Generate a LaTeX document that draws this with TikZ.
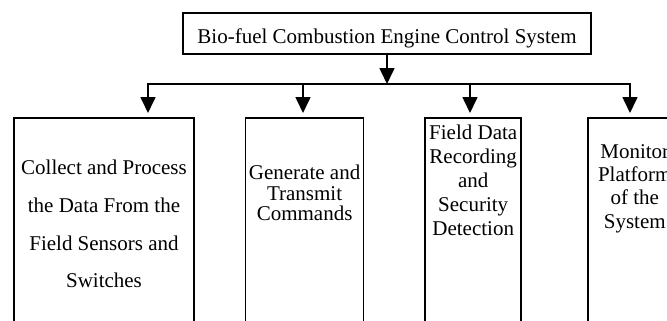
\documentclass[tikz,border=0pt]{standalone}
\usepackage{fontspec}
\setmainfont{Liberation Serif}
\usetikzlibrary{positioning,arrows.meta}

\begin{document}
\begin{tikzpicture}[x=1bp,y=-1bp,
  node distance=50bp,
  frame/.style={draw,line width=1.6bp,inner sep=0pt,minimum height=240bp},
  lbl/.style={align=center,inner sep=0pt,font=\fontsize{21bp}{#1}\selectfont},
  arr/.style={-{Triangle[length=16bp,width=15bp]},line width=1.6bp}]
\clip (0,0) rectangle (667,320);
\node[draw,line width=1.6bp,minimum width=408bp,minimum height=41bp,inner sep=0pt,
      font=\fontsize{21bp}{24bp}\selectfont,text height=20bp,text depth=0pt] (sys) at (387,33.5)
      {Bio-fuel Combustion Engine Control System};
\node[frame,minimum width=180bp,anchor=north] (b1) at (104,117) {};
\node[frame,minimum width=118bp,right=50bp of b1] (b2) {};
\node[frame,minimum width=96bp,right=60bp of b2] (b3) {};
\node[frame,minimum width=94bp,right=65bp of b3] (b4) {};
\node[lbl=37.7bp,below=43bp of b1.north] (t1) {Collect and Process\\the Data From the\\Field Sensors and\\Switches};
\node[lbl=20.5bp,below=48bp of b2.north] (t2) {Generate and\\Transmit\\Commands};
\node[lbl=24bp,below=8bp of b3.north] (t3) {Field Data\\Recording\\and\\Security\\Detection};
\node[lbl=23.3bp,below=27bp of b4.north] (t4) {Monitor\\Platform\\of the\\System};
% bus under the top box
\coordinate (jm) at (387,84);
\coordinate (j1) at (148,84);
\coordinate (j2) at (303,84);
\coordinate (j3) at (470,84);
\coordinate (j4) at (630,84);
\draw[line width=1.6bp,line cap=rect] (j1) -- (j4);
\draw[arr] (sys) -- (jm);
\foreach \i in {1,...,4}
  \draw[arr,shorten >=4bp] (j\i) -- (j\i |- b\i.north);
\end{tikzpicture}
\end{document}
